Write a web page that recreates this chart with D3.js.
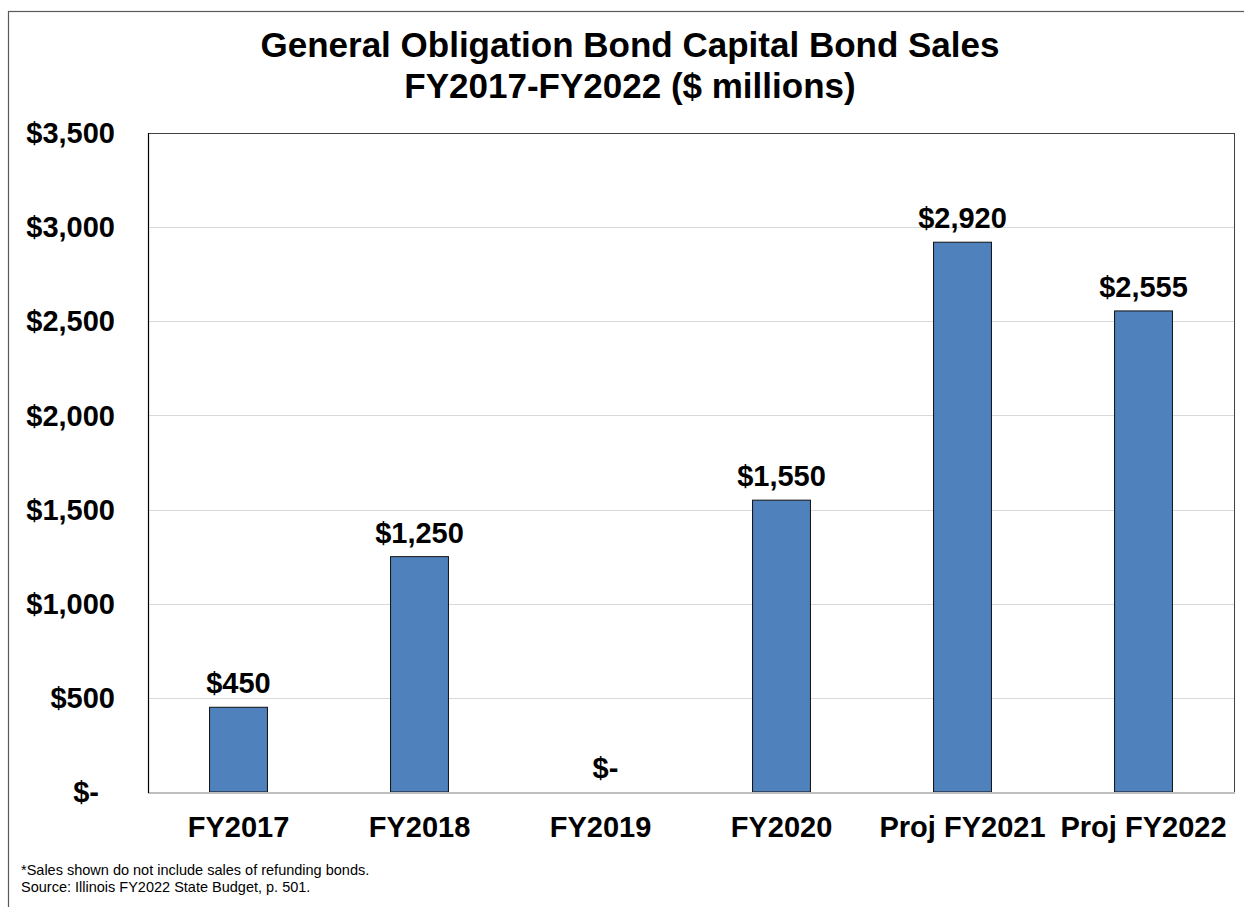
<!DOCTYPE html>
<html>
<head>
<meta charset="utf-8">
<script src="https://cdn.jsdelivr.net/npm/d3@7"></script>
<style>
  html, body { margin: 0; padding: 0; background: #fff; }
  svg { display: block; font-family: Arial, "Liberation Sans", sans-serif; }
</style>
</head>
<body>
<svg id="chart" width="1244" height="907"></svg>
<script>
const categories = ["FY2017", "FY2018", "FY2019", "FY2020", "Proj FY2021", "Proj FY2022"];
const values = [450, 1250, 0, 1550, 2920, 2555];
const yTicks = [0, 500, 1000, 1500, 2000, 2500, 3000, 3500];
const titleLines = ["General Obligation Bond Capital Bond Sales", "FY2017-FY2022 ($ millions)"];
const notes = ["*Sales shown do not include sales of refunding bonds.", "Source: Illinois FY2022 State Budget, p. 501."];

const svg = d3.select("#chart");
const W = 1244, H = 907;
const plot = { left: 148, right: 1234, top: 133, bottom: 792 };

const money = v => v === 0 ? "$-" : "$" + d3.format(",")(v);

// outer frame
svg.append("rect").attr("x", 8.5).attr("y", 11.5).attr("width", W).attr("height", H)
  .attr("fill", "#fff").attr("stroke", "#595959").attr("stroke-width", 1.2);

const x = d3.scaleBand().domain(categories).range([plot.left, plot.right])
  .paddingInner(0.68).paddingOuter(0.34);
const y = d3.scaleLinear().domain([0, 3500]).range([plot.bottom, plot.top]);

// gridlines
svg.append("g").selectAll("line").data(yTicks.filter(t => t > 0 && t < 3500)).join("line")
  .attr("x1", plot.left).attr("x2", plot.right)
  .attr("y1", d => Math.round(y(d)) + 0.5).attr("y2", d => Math.round(y(d)) + 0.5)
  .attr("stroke", "#D9D9D9").attr("stroke-width", 1);

// plot area border
svg.append("rect").attr("x", plot.left + 0.5).attr("y", plot.top + 0.5)
  .attr("width", plot.right - plot.left).attr("height", plot.bottom - plot.top)
  .attr("fill", "none").attr("stroke", "#404040").attr("stroke-width", 1);

// bars
svg.append("g").selectAll("rect").data(values).join("rect")
  .filter(d => d > 0)
  .attr("x", (d, i) => x(categories[values.indexOf(d)]))
  .attr("y", d => y(d))
  .attr("width", x.bandwidth())
  .attr("height", d => y(0) - y(d))
  .attr("fill", "#4F81BD").attr("stroke", "#111").attr("stroke-width", 1);

// category axis line
svg.append("line").attr("x1", plot.left).attr("x2", plot.right + 1)
  .attr("y1", plot.bottom + 1).attr("y2", plot.bottom + 1)
  .attr("stroke", "#BFBFBF").attr("stroke-width", 2);
// value axis line
svg.append("line").attr("x1", plot.left + 0.5).attr("x2", plot.left + 0.5)
  .attr("y1", plot.top).attr("y2", plot.bottom + 1)
  .attr("stroke", "#000").attr("stroke-width", 1.2);

// y tick labels
svg.append("g").selectAll("text").data(yTicks).join("text")
  .attr("x", 115).attr("y", d => y(d)).attr("dy", "0.35em")
  .attr("dx", d => d === 0 ? -16 : 0)
  .attr("text-anchor", "end").attr("font-size", 29).attr("font-weight", "bold")
  .attr("fill", "#000").text(money);

// x labels
svg.append("g").selectAll("text").data(categories).join("text")
  .attr("x", d => x(d) + x.bandwidth() / 2).attr("y", 837)
  .attr("text-anchor", "middle").attr("font-size", 29).attr("font-weight", "bold")
  .attr("fill", "#000").text(d => d);

// data labels
svg.append("g").selectAll("text").data(values).join("text")
  .attr("x", (d, i) => x(categories[i]) + x.bandwidth() / 2 + (d === 0 ? 5 : 0))
  .attr("y", d => y(d) - 14)
  .attr("text-anchor", "middle").attr("font-size", 29).attr("font-weight", "bold")
  .attr("fill", "#000").text(money);

// title
svg.append("g").selectAll("text").data(titleLines).join("text")
  .attr("x", 630).attr("y", (d, i) => 57 + i * 41)
  .attr("text-anchor", "middle").attr("font-size", 35).attr("font-weight", "bold")
  .attr("fill", "#000").text(d => d);

// notes
svg.append("g").selectAll("text").data(notes).join("text")
  .attr("x", 21).attr("y", (d, i) => 875 + i * 17)
  .attr("font-size", 14.5).attr("fill", "#000").text(d => d);
</script>
</body>
</html>
